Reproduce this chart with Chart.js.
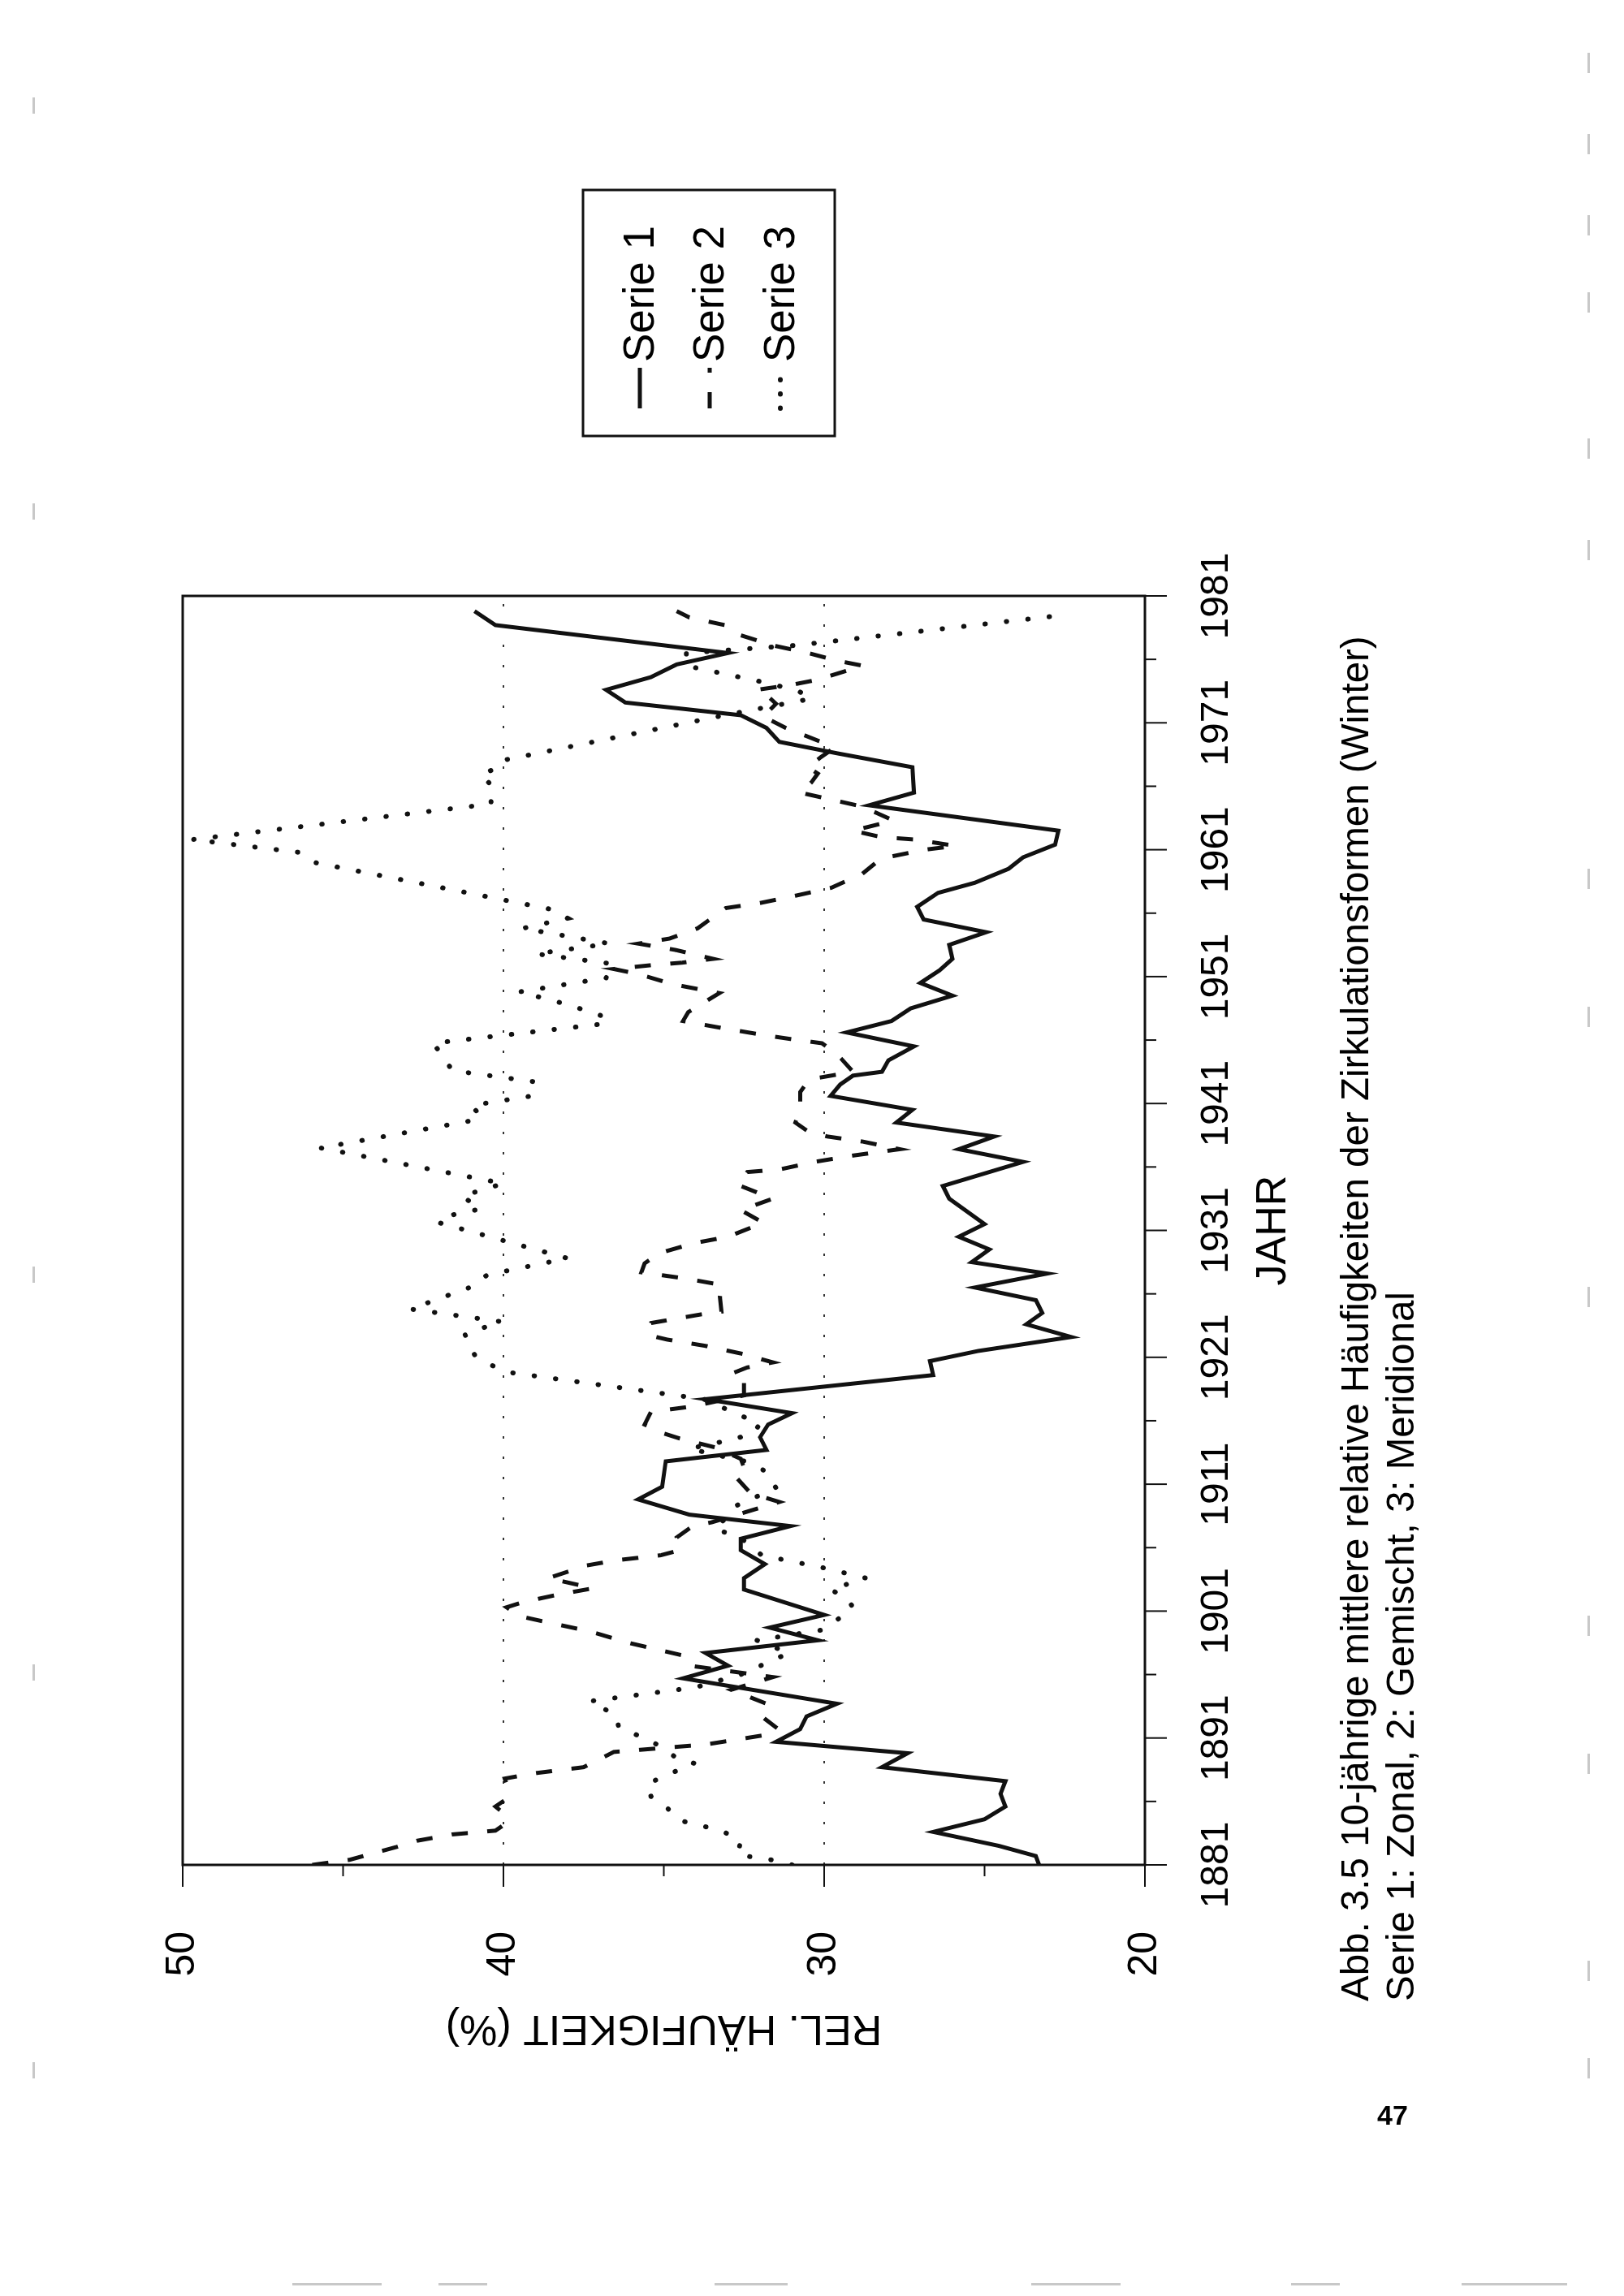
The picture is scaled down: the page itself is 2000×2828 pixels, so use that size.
<!DOCTYPE html>
<html>
<head>
<meta charset="utf-8">
<script src="https://cdn.jsdelivr.net/npm/chart.js@4.4.1/dist/chart.umd.min.js"></script>
<style>
  html, body { margin: 0; padding: 0; background: #fff; }
  body { width: 2000px; height: 2828px; position: relative; overflow: hidden; font-family: "Liberation Sans", Arial, sans-serif; }
  #rot { position: absolute; left: 0; top: 0; width: 2828px; height: 2000px; transform-origin: 0 0; transform: translate(0px, 2828px) rotate(-90deg); }
  #pageno { position: absolute; left: 1696px; top: 2588px; font: bold 34px "Liberation Sans", Arial, sans-serif; color: #000; line-height: 34px; }
  .mk { position: absolute; background: #c8c8c8; }
</style>
</head>
<body>
<div id="rot"><canvas id="c" width="2828" height="2000"></canvas></div>
<div id="pageno">47</div>
<div id="marks"></div>
<script>
// ---- data ----
const seriesNames = ['Serie 1', 'Serie 2', 'Serie 3'];

const s1Years = [1881.0,1881.7,1882.5,1883.6,1884.6,1885.6,1886.6,1887.6,1888.7,1889.8,1890.7,1891.7,1892.7,1893.7,1895.7,1896.7,1897.7,1898.7,1899.7,1900.7,1902.7,1903.6,1904.7,1905.8,1906.7,1907.7,1908.6,1909.8,1910.8,1912.8,1913.7,1914.7,1915.7,1916.6,1917.7,1919.6,1920.7,1921.5,1922.6,1923.6,1924.5,1925.5,1926.5,1927.6,1928.5,1929.5,1930.5,1931.5,1933.5,1934.5,1936.4,1937.4,1938.4,1939.5,1940.5,1941.6,1942.5,1943.2,1943.5,1944.4,1945.5,1946.6,1947.5,1948.5,1949.5,1950.5,1951.5,1952.4,1953.5,1954.5,1955.5,1956.5,1957.6,1958.4,1959.5,1960.4,1961.4,1962.5,1964.5,1965.5,1967.5,1968.6,1969.5,1970.6,1971.6,1972.6,1973.6,1974.6,1975.6,1976.5,1978.7,1979.8];
const s1Values = [23.3,23.4,24.55,26.6,25.0,24.35,24.5,24.35,28.2,27.4,31.5,30.75,30.55,29.6,34.4,33.0,33.7,30.2,31.7,30.0,32.5,32.5,31.85,32.6,32.6,31.05,34.2,35.8,35.05,34.94,31.8,32.0,31.75,31.0,33.7,26.6,26.7,25.2,22.3,23.7,23.2,23.4,25.3,23.05,25.4,24.85,25.8,25.0,26.1,26.3,23.8,25.8,24.7,27.75,27.25,29.8,29.5,29.1,28.2,28.0,27.2,29.3,27.9,27.3,26.0,27.0,26.4,26.0,26.1,24.95,26.9,27.1,26.45,25.3,24.25,23.8,22.8,22.7,28.6,27.2,27.25,29.6,31.4,31.8,32.6,36.2,36.8,35.4,34.6,33.0,40.25,40.9];

const s2Years = [1881.0,1881.4,1882.4,1882.9,1883.4,1883.7,1884.2,1885.0,1885.6,1886.1,1887.0,1887.8,1888.2,1888.7,1889.9,1890.2,1890.5,1891.2,1891.7,1892.8,1893.7,1894.8,1895.8,1896.7,1897.5,1898.5,1899.4,1900.1,1900.6,1901.3,1901.7,1902.3,1902.8,1903.6,1904.6,1905.0,1905.4,1905.8,1906.8,1907.7,1908.0,1909.6,1910.3,1911.7,1912.3,1913.0,1913.9,1914.6,1915.0,1915.7,1916.7,1917.1,1917.4,1918.0,1919.0,1919.7,1920.2,1920.6,1921.3,1921.9,1922.4,1922.7,1923.2,1923.7,1924.4,1924.6,1925.8,1926.7,1927.2,1927.7,1928.4,1929.2,1930.0,1930.5,1931.6,1932.6,1933.5,1934.6,1935.6,1935.8,1936.4,1936.9,1937.4,1938.0,1938.4,1938.8,1939.5,1940.5,1941.9,1942.9,1943.5,1944.9,1945.75,1946.1,1946.4,1947.0,1947.5,1948.2,1949.7,1950.4,1951.2,1951.6,1951.9,1952.1,1952.4,1953.1,1953.6,1954.0,1954.8,1956.4,1956.8,1957.4,1958.0,1959.1,1960.3,1961.0,1961.3,1961.8,1962.0,1962.5,1963.3,1964.4,1965.5,1966.3,1967.0,1967.5,1968.3,1969.0,1969.5,1970.6,1971.5,1972.5,1973.2,1973.6,1974.0,1974.4,1975.5,1975.9,1976.5,1977.1,1977.9,1978.7,1979.3,1979.8];
const s2Values = [45.96,44.8,43.35,42.7,41.6,40.25,39.96,39.96,40.25,39.96,39.86,39.96,39.1,37.5,36.56,35.1,33.66,31.92,31.43,32.0,31.8,32.9,31.6,34.2,34.4,36.1,37.3,38.6,39.5,39.9,39.4,38.3,37.2,38.6,37.4,36.5,35.1,34.5,34.6,34.1,33.5,31.4,32.3,32.8,32.5,32.6,33.4,34.5,35.0,35.6,35.4,34.2,33.6,32.5,32.5,32.9,32.4,31.6,32.6,33.7,34.9,35.4,35.5,35.4,33.8,33.2,33.25,33.2,34.3,35.7,35.6,35.15,34.05,33.0,31.9,32.6,31.6,32.7,32.4,31.4,30.3,29.1,27.65,28.8,29.9,30.5,30.9,30.75,30.75,30.46,29.1,29.6,30.07,31.1,31.9,33.3,34.4,34.24,33.27,34.72,35.79,36.56,35.4,34.43,33.46,34.63,35.79,34.82,33.95,33.07,32.0,30.85,29.78,28.81,28.23,26.87,25.9,27.17,28.23,29.1,27.84,28.81,30.75,30.4,30.2,30.5,30.1,29.7,30.1,31.2,31.9,31.5,31.8,32.1,31.0,30.2,28.8,29.6,30.5,31.6,32.6,33.1,34.2,34.6];

const s3Years = [1881.0,1881.3,1881.8,1882.9,1883.7,1884.5,1885.5,1886.4,1887.4,1888.2,1889.0,1889.4,1890.2,1891.0,1891.8,1892.8,1893.9,1895.0,1896.0,1897.7,1898.7,1899.5,1900.3,1901.3,1902.0,1902.7,1903.6,1904.4,1905.4,1906.2,1907.0,1907.4,1909.3,1910.7,1912.05,1912.8,1913.1,1913.8,1914.5,1915.0,1915.8,1916.4,1917.7,1919.8,1920.4,1921.2,1922.8,1923.35,1923.8,1924.8,1926.55,1927.5,1928.8,1931.6,1932.0,1932.7,1933.7,1934.7,1937.5,1939.6,1940.0,1940.85,1941.6,1942.7,1943.6,1944.8,1945.75,1947.3,1947.8,1948.8,1949.8,1950.9,1952.0,1952.8,1953.6,1954.8,1955.6,1956.3,1960.0,1960.8,1961.8,1964.6,1965.9,1966.9,1967.4,1968.0,1971.6,1972.9,1973.5,1974.1,1975.5,1976.5,1977.1,1979.5];
const s3Values = [31.0,31.4,32.7,32.6,33.2,34.5,34.9,35.4,35.5,34.8,34.05,34.6,35.0,35.6,36.4,36.5,37.3,34.0,32.6,31.1,32.1,30.1,29.6,29.1,29.3,29.8,28.7,30.0,31.95,32.3,32.75,33.4,32.75,31.5,31.85,32.45,33.0,34.2,32.9,32.2,32.0,32.6,33.75,39.8,40.4,40.9,41.2,40.6,40.05,42.9,41.0,40.5,38.0,42.0,42.0,40.7,41.3,40.0,45.7,41.1,40.7,41.0,39.1,39.0,41.6,41.9,42.2,36.8,36.8,38.0,39.5,36.8,36.6,39.0,36.7,39.4,38.0,38.5,45.9,46.4,49.7,40.4,40.3,40.7,40.25,40.1,33.1,30.4,30.8,31.7,34.3,34.3,30.9,22.5];

const yearTicks = [1881,1891,1901,1911,1921,1931,1941,1951,1961,1971,1981];
const minorYearTicks = [1886,1896,1906,1916,1926,1936,1946,1956,1966,1976];
const valueTicks = [20,30,40,50];
const minorValueTicks = [25,35,45];
const gridValues = [30,40];

const xTitle = 'JAHR';
const yTitle = 'REL. HÄUFIGKEIT (%)';
const captionLines = [
  'Abb. 3.5 10-jährige mittlere relative Häufigkeiten der Zirkulationsformen (Winter)',
  'Serie 1: Zonal, 2: Gemischt, 3: Meridional'
];

// ---- styles ----
const INK = '#111';
const FONT = '"Liberation Sans", Arial, sans-serif';
const styles = [
  { borderWidth: 5, borderDash: [], borderCapStyle: 'butt', legendDash: [] },
  { borderWidth: 5, borderDash: [20, 24], borderCapStyle: 'butt', legendDash: [20, 24] },
  { borderWidth: 6, borderDash: [0.5, 26], borderCapStyle: 'round', legendDash: [0.5, 17] }
];

const toPoints = (xs, ys) => xs.map((x, i) => ({ x: x, y: ys[i] }));
const allYears = [s1Years, s2Years, s3Years];
const allValues = [s1Values, s2Values, s3Values];

const datasets = seriesNames.map((name, i) => Object.assign({
  label: name,
  data: toPoints(allYears[i], allValues[i]),
  borderColor: INK,
  backgroundColor: INK,
  pointRadius: 0,
  tension: 0,
  fill: false,
  borderJoinStyle: 'miter'
}, styles[i]));

const decor = {
  id: 'decor',
  beforeDatasetsDraw(chart) {
    const { ctx, chartArea: a, scales: { y } } = chart;
    ctx.save();
    ctx.strokeStyle = '#333';
    ctx.lineWidth = 2;
    ctx.setLineDash([3, 22]);
    gridValues.forEach(v => {
      const py = Math.round(y.getPixelForValue(v));
      ctx.beginPath(); ctx.moveTo(a.left, py); ctx.lineTo(a.right, py); ctx.stroke();
    });
    ctx.restore();
  },
  afterDraw(chart) {
    const { ctx, chartArea: a, scales: { x, y } } = chart;
    ctx.save();
    ctx.strokeStyle = INK;
    ctx.setLineDash([]);
    // frame
    ctx.lineWidth = 3;
    ctx.strokeRect(a.left, a.top, a.right - a.left, a.bottom - a.top);
    // ticks
    ctx.lineWidth = 2;
    const tick = (x1, y1, x2, y2) => { ctx.beginPath(); ctx.moveTo(x1, y1); ctx.lineTo(x2, y2); ctx.stroke(); };
    yearTicks.forEach(v => { const px = x.getPixelForValue(v); tick(px, a.bottom, px, a.bottom + 27); });
    minorYearTicks.forEach(v => { const px = x.getPixelForValue(v); tick(px, a.bottom, px, a.bottom + 14); });
    valueTicks.forEach(v => { const py = y.getPixelForValue(v); tick(a.left, py, a.left - 27, py); });
    minorValueTicks.forEach(v => { const py = y.getPixelForValue(v); tick(a.left, py, a.left - 14, py); });

    // legend box
    const L = { left: 2291, top: 718, w: 303, h: 310 };
    ctx.lineWidth = 3;
    ctx.strokeRect(L.left, L.top, L.w, L.h);
    const rows = [788, 874, 961];
    chart.data.datasets.forEach((ds, i) => {
      ctx.save();
      ctx.strokeStyle = INK;
      ctx.lineWidth = ds.borderWidth;
      ctx.lineCap = ds.borderCapStyle;
      ctx.setLineDash(ds.legendDash);
      ctx.beginPath(); ctx.moveTo(2325, rows[i]); ctx.lineTo(2375, rows[i]); ctx.stroke();
      ctx.restore();
      ctx.fillStyle = '#000';
      ctx.font = '53px ' + FONT;
      ctx.textAlign = 'left';
      ctx.textBaseline = 'middle';
      ctx.fillText(ds.label, 2382, rows[i] + 2);
    });

    // caption
    ctx.fillStyle = '#000';
    ctx.font = '47.5px ' + FONT;
    ctx.textAlign = 'left';
    ctx.textBaseline = 'middle';
    ctx.fillText(captionLines[0], 363, 1672);
    ctx.fillText(captionLines[1], 363, 1728);
    ctx.restore();
  }
};

Chart.defaults.font.family = FONT;
Chart.defaults.color = '#000';

new Chart(document.getElementById('c'), {
  type: 'line',
  data: { datasets: datasets },
  options: {
    responsive: false,
    animation: false,
    devicePixelRatio: 1,
    layout: { padding: { left: 0, top: 225, right: 734, bottom: 0 } },
    plugins: { legend: { display: false }, tooltip: { enabled: false } },
    scales: {
      x: {
        type: 'linear',
        min: 1881,
        max: 1981,
        afterBuildTicks: s => { s.ticks = yearTicks.map(v => ({ value: v })); },
        afterFit: s => { s.height = 590; },
        grid: { display: false },
        border: { display: false },
        ticks: { autoSkip: false, maxRotation: 0, padding: 52, font: { size: 48 }, color: '#000', callback: v => String(v) },
        title: { display: true, text: xTitle, font: { size: 52 }, color: '#000', padding: { top: 0, bottom: 400 } }
      },
      y: {
        type: 'linear',
        min: 20,
        max: 50,
        afterBuildTicks: s => { s.ticks = valueTicks.map(v => ({ value: v })); },
        afterFit: s => { s.width = 531; },
        grid: { display: false },
        border: { display: false },
        ticks: { padding: 74, font: { size: 50 }, color: '#000' },
        title: { display: true, text: yTitle, font: { size: 52 }, color: '#000', padding: { top: 299, bottom: 0 } }
      }
    }
  },
  plugins: [decor]
});

// faint scanner marks along the page edges (decoration only)
const edgeMarks = [
  [1955, 65, 3, 25], [1955, 165, 3, 25], [1955, 265, 3, 25], [1955, 360, 3, 25], [1955, 540, 3, 25],
  [1955, 665, 3, 25], [1955, 1070, 3, 25], [1955, 1240, 3, 25], [1955, 1585, 3, 25], [1955, 1990, 3, 25],
  [1955, 2160, 3, 25], [1955, 2415, 3, 25], [1955, 2535, 3, 25],
  [40, 120, 3, 20], [40, 620, 3, 20], [40, 1560, 3, 20], [40, 2050, 3, 20], [40, 2540, 3, 20],
  [360, 2812, 110, 3], [540, 2812, 60, 3], [880, 2812, 90, 3], [1270, 2812, 110, 3], [1590, 2812, 60, 3], [1800, 2812, 130, 3]
];
const mk = document.getElementById('marks');
edgeMarks.forEach(m => {
  const d = document.createElement('div');
  d.className = 'mk';
  d.style.left = m[0] + 'px'; d.style.top = m[1] + 'px';
  d.style.width = m[2] + 'px'; d.style.height = m[3] + 'px';
  mk.appendChild(d);
});
</script>
</body>
</html>
